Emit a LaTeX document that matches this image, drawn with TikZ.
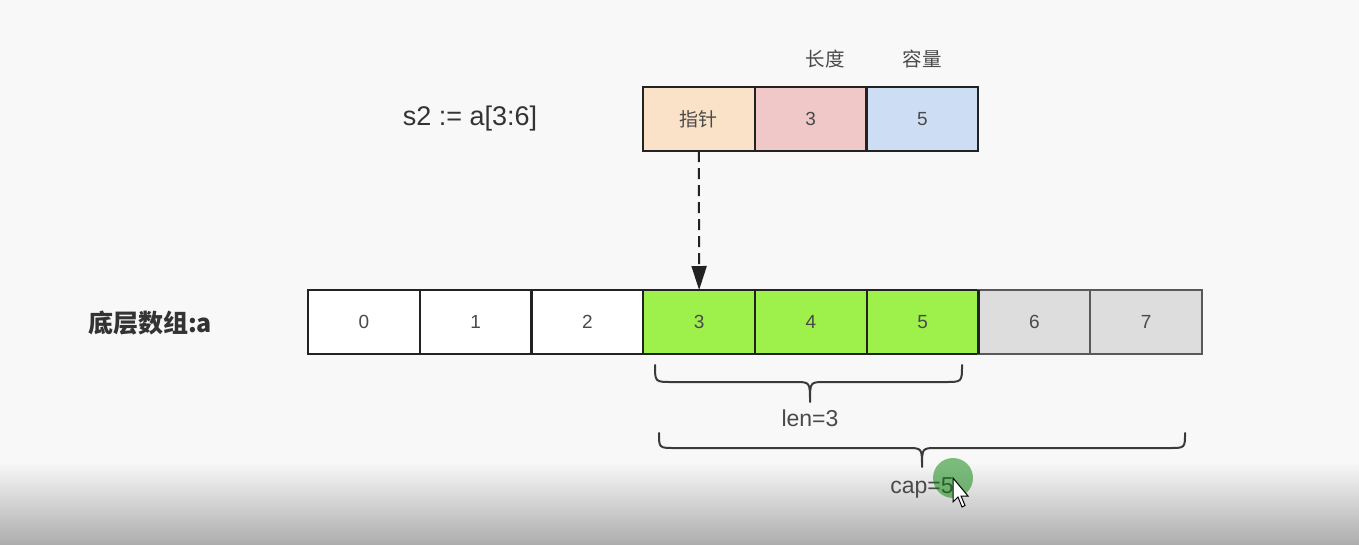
\documentclass[tikz,border=0pt]{standalone}
\usepackage{fontspec}
\setmainfont{Liberation Sans}
\newfontfamily\cjk{Noto Sans CJK SC}
\usetikzlibrary{arrows.meta}
\definecolor{bgc}{HTML}{F8F8F8}
\definecolor{txt}{HTML}{4A4A4A}
\definecolor{peach}{HTML}{F9E2C8}
\definecolor{pinkc}{HTML}{F0C8C8}
\definecolor{bluec}{HTML}{CDDEF4}
\definecolor{greenc}{HTML}{9EF04A}
\definecolor{grayc}{HTML}{DDDDDD}
\definecolor{linec}{HTML}{222222}
\definecolor{bracec}{HTML}{3A3A3A}
\tikzset{
  cell/.style={draw=linec, line width=2.2pt, minimum width=111.75pt, minimum height=64pt,
    inner sep=0pt, outer sep=0pt, anchor=west, text=txt, font=\fontsize{19}{21}\selectfont},
  lbl/.style={text=txt, inner sep=0pt},
  bracestyle/.style={draw=bracec, line width=2pt, line cap=round, line join=round},
}
\begin{document}
\begin{tikzpicture}[x=1pt,y=-1pt]
\useasboundingbox (0,0) rectangle (1359,544);
\fill[bgc] (0,0) rectangle (1359,544);
\shade[top color=bgc, bottom color=black!32] (0,462) rectangle (1359,544);
% top struct
\node[cell, fill=peach] (p) at (643,119) {\cjk 指针};
\node[cell, fill=pinkc] (l) at (p.east) {3};
\node[cell, fill=bluec] (c) at (l.east) {5};
\node[lbl, font=\cjk\fontsize{19.5}{21}\selectfont] (lt) at (825,59) {长度};
\node[lbl, font=\cjk\fontsize{19.5}{21}\selectfont] (ct) at (922,59) {容量};
\node[lbl, text=black!80, font=\fontsize{27}{29}\selectfont] (s2) at (470,119) {s2 := a[3:6]};
% array
\node[cell, fill=white] (a0) at (308,322) {0};
\node[cell, fill=white] (a1) at (a0.east) {1};
\node[cell, fill=white] (a2) at (a1.east) {2};
\node[cell, fill=greenc] (a3) at (a2.east) {3};
\node[cell, fill=greenc] (a4) at (a3.east) {4};
\node[cell, fill=greenc] (a5) at (a4.east) {5};
\node[cell, fill=grayc, draw=black!65] (a6) at (a5.east) {6};
\node[cell, fill=grayc, draw=black!65] (a7) at (a6.east) {7};
\draw[draw=linec, line width=2.2pt] (a5.north east) -- (a5.south east);
\node[lbl, text=black!80, font=\cjk\bfseries\fontsize{25}{27}\selectfont, anchor=west] (arr) at (88,323) {底层数组:a};
% pointer arrow
\draw[draw=linec, line width=2pt, dash pattern=on 11pt off 6pt,
  -{Triangle[length=24pt,width=15pt]}] (p.south) -- (a3.north);
% braces
\coordinate (b1l) at (655,365);
\coordinate (b1r) at (962,365);
\draw[bracestyle] (b1l) .. controls (655,382) .. (672,382) -- (795,382)
  .. controls (810,382) .. (810,402) .. controls (810,382) .. (825,382) -- (945,382)
  .. controls (962,382) .. (b1r);
\node[lbl, font=\fontsize{23}{25}\selectfont] (len) at (810,418) {len=3};
\coordinate (b2l) at (659,433);
\coordinate (b2r) at (1185,433);
\draw[bracestyle] (b2l) .. controls (659,448) .. (675,448) -- (907,448)
  .. controls (922,448) .. (922,467) .. controls (922,448) .. (937,448) -- (1169,448)
  .. controls (1185,448) .. (b2r);
\node[lbl, font=\fontsize{23}{25}\selectfont] (cap) at (922,488) {cap=5};
% cursor highlight
\fill[green!50!black, opacity=0.5] (953,478) circle (20);
\draw[black, line width=1pt, fill=white] (953,478) -- (953,502) -- (958,497) -- (962,507) -- (965,505.5) -- (961,496) -- (968,496) -- cycle;
\end{tikzpicture}
\end{document}
